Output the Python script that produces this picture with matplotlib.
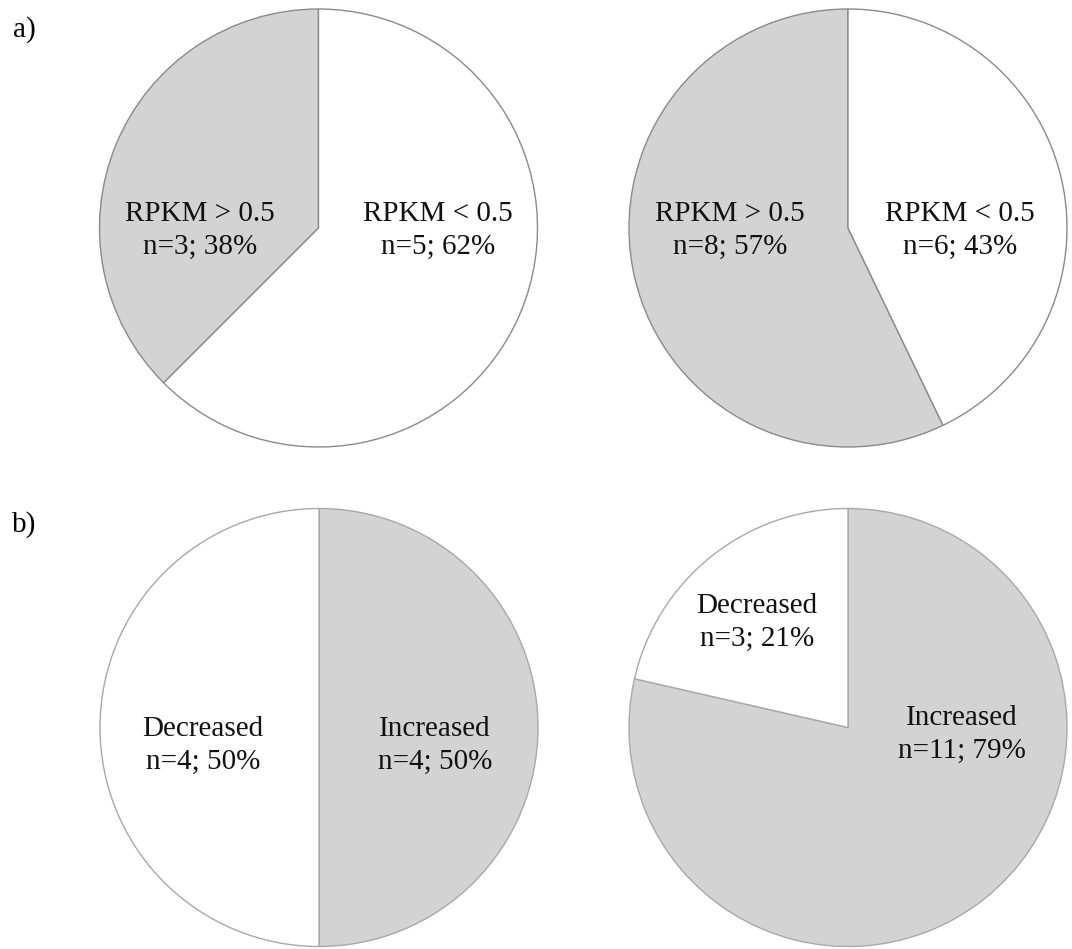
import matplotlib.pyplot as plt

plt.rcParams['font.family'] = ['Liberation Serif', 'DejaVu Serif']

# counts per group
rpkm_labels = ['RPKM > 0.5', 'RPKM < 0.5']
rpkm_counts_1 = [3, 5]
rpkm_counts_2 = [8, 6]

change_labels = ['Increased', 'Decreased']
change_counts_1 = [4, 4]
change_counts_2 = [11, 3]

W, H = 1072, 949
GRAY = '#d3d3d3'


def pie_axes(fig, cx, cy, r):
    # axes placed by pixel centre/radius, pie drawn with radius 1
    ax = fig.add_axes([(cx - r) / W, 1 - (cy + r) / H, 2 * r / W, 2 * r / H])
    return ax


def draw_pie(ax, counts, labels, colors, edge, counterclock, label_pos):
    total = sum(counts)
    wedges, _ = ax.pie(counts, colors=colors, startangle=90, counterclock=counterclock,
                       radius=1, wedgeprops=dict(edgecolor=edge, linewidth=1.0))
    # pie() resets the limits to +-1.25, pull them back to the unit circle
    ax.set_xlim(-1, 1)
    ax.set_ylim(-1, 1)
    ax.set_aspect('equal')
    ax.axis('off')
    for w in wedges:
        w.set_clip_on(False)
    for c, lab, (x, y) in zip(counts, labels, label_pos):
        pct = round(100 * c / total)
        ax.text(x, y, f'{lab}\nn={c}; {pct}%', ha='center', va='center',
                fontsize=21, linespacing=1.35, color='#111111')


fig = plt.figure(figsize=(W / 100, H / 100), dpi=100)
r = 219

ax1 = pie_axes(fig, 318.5, 228, r)
draw_pie(ax1, rpkm_counts_1, rpkm_labels, [GRAY, 'white'], '#8a8a8a', True,
         [(-0.54, -0.01), (0.545, -0.01)])

ax2 = pie_axes(fig, 848, 228, r)
draw_pie(ax2, rpkm_counts_2, rpkm_labels, [GRAY, 'white'], '#8a8a8a', True,
         [(-0.54, -0.01), (0.51, -0.01)])

ax3 = pie_axes(fig, 319, 727.5, r)
draw_pie(ax3, change_counts_1, change_labels, [GRAY, 'white'], '#a8a8a8', False,
         [(0.53, -0.08), (-0.53, -0.08)])

ax4 = pie_axes(fig, 848, 727.5, r)
draw_pie(ax4, change_counts_2, change_labels, [GRAY, 'white'], '#a8a8a8', False,
         [(0.52, -0.03), (-0.415, 0.48)])

fig.text(13 / W, 1 - 30 / H, 'a)', fontsize=21, ha='left', va='center')
fig.text(12 / W, 1 - 525 / H, 'b)', fontsize=21, ha='left', va='center')

fig.savefig('out.png', dpi=100, facecolor='white')
